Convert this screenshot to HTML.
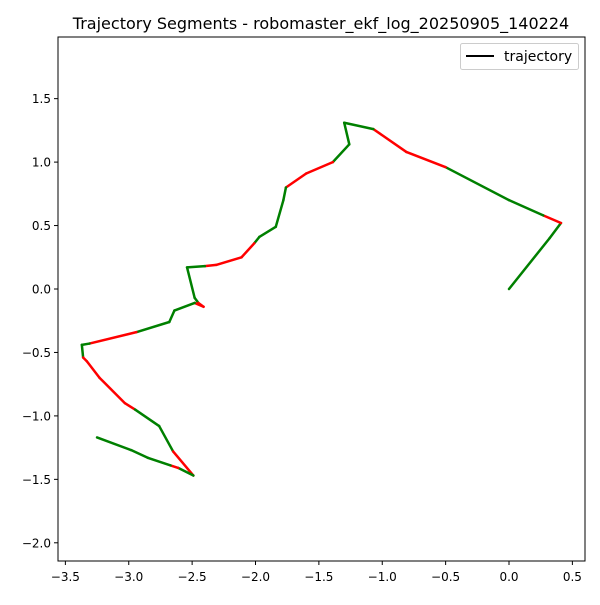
<!DOCTYPE html>
<html><head><meta charset="utf-8"><style>
body{margin:0;background:#fff;}
svg text{font-family:"DejaVu Sans","Liberation Sans",sans-serif;}
</style></head><body>
<svg id="chart" width="600" height="600" viewBox="0 0 600 600" xmlns="http://www.w3.org/2000/svg">
<rect width="600" height="600" fill="#fff"/>
<text x="321" y="29" font-size="16" text-anchor="middle">Trajectory Segments - robomaster_ekf_log_20250905_140224</text>
<g id="plot"></g>
<rect x="58" y="37" width="527" height="524" fill="none" stroke="#000" stroke-width="1"/>
<g>
<rect x="460.5" y="43.5" width="118" height="26" rx="2" fill="#fff" stroke="#ccc"/>
<line x1="466" y1="56" x2="494" y2="56" stroke="#000" stroke-width="2"/>
<text x="504" y="61" font-size="14">trajectory</text>
</g>
</svg>
<script>
const xs=[0,0.32,0.41,0.27,0.0,-0.50,-0.81,-1.07,-1.30,-1.26,-1.39,-1.60,-1.76,-1.78,-1.84,-1.97,-2.01,-2.11,-2.31,-2.40,-2.54,-2.48,-2.45,-2.41,-2.48,-2.64,-2.68,-2.94,-3.31,-3.37,-3.36,-3.33,-3.23,-3.03,-2.95,-2.76,-2.65,-2.49,-2.61,-2.67,-2.85,-2.98,-3.25];
const ys=[0,0.40,0.52,0.58,0.70,0.96,1.08,1.26,1.31,1.14,1.00,0.91,0.80,0.70,0.49,0.41,0.36,0.25,0.19,0.18,0.17,-0.07,-0.11,-0.14,-0.11,-0.17,-0.26,-0.34,-0.43,-0.44,-0.54,-0.57,-0.70,-0.90,-0.95,-1.08,-1.28,-1.47,-1.41,-1.39,-1.33,-1.27,-1.17];
const segColors="ggrggrrgggrrggggrrrgggrrgggrggrrrrggrgrggg";
const xTicks=[-3.5,-3.0,-2.5,-2.0,-1.5,-1.0,-0.5,0.0,0.5];
const yTicks=[-2.0,-1.5,-1.0,-0.5,0.0,0.5,1.0,1.5];
const X=v=>509+v*126.75, Y=v=>289-v*126.9;
const NS="http://www.w3.org/2000/svg";
const svg=document.getElementById('chart'), g=document.getElementById('plot');
function mk(t,a,p){const e=document.createElementNS(NS,t);for(const k in a)e.setAttribute(k,a[k]);(p||svg).appendChild(e);return e;}
for(let i=0;i<xs.length-1;i++){
 const l=mk('line',{x1:X(xs[i]),y1:Y(ys[i]),x2:X(xs[i+1]),y2:Y(ys[i+1]),stroke:segColors[i]==='r'?'#ff0000':'#008000','stroke-width':2.5,'stroke-linecap':'round'},g);
 
 
}
xTicks.forEach(v=>{
 const t=mk('line',{x1:X(v),y1:561,x2:X(v),y2:565,stroke:'#000'});
 
 
 const tx=mk('text',{x:X(v),y:581,'font-size':12,'text-anchor':'middle'});
 tx.textContent=v.toFixed(1).replace('-','\u2212');
 
 
});
yTicks.forEach(v=>{
 const t=mk('line',{x1:54,y1:Y(v),x2:58,y2:Y(v),stroke:'#000'});
 
 
 const tx=mk('text',{x:51,y:Y(v)+4.5,'font-size':12,'text-anchor':'end'});
 tx.textContent=v.toFixed(1).replace('-','\u2212');
 
 
});
</script>
</body></html>
